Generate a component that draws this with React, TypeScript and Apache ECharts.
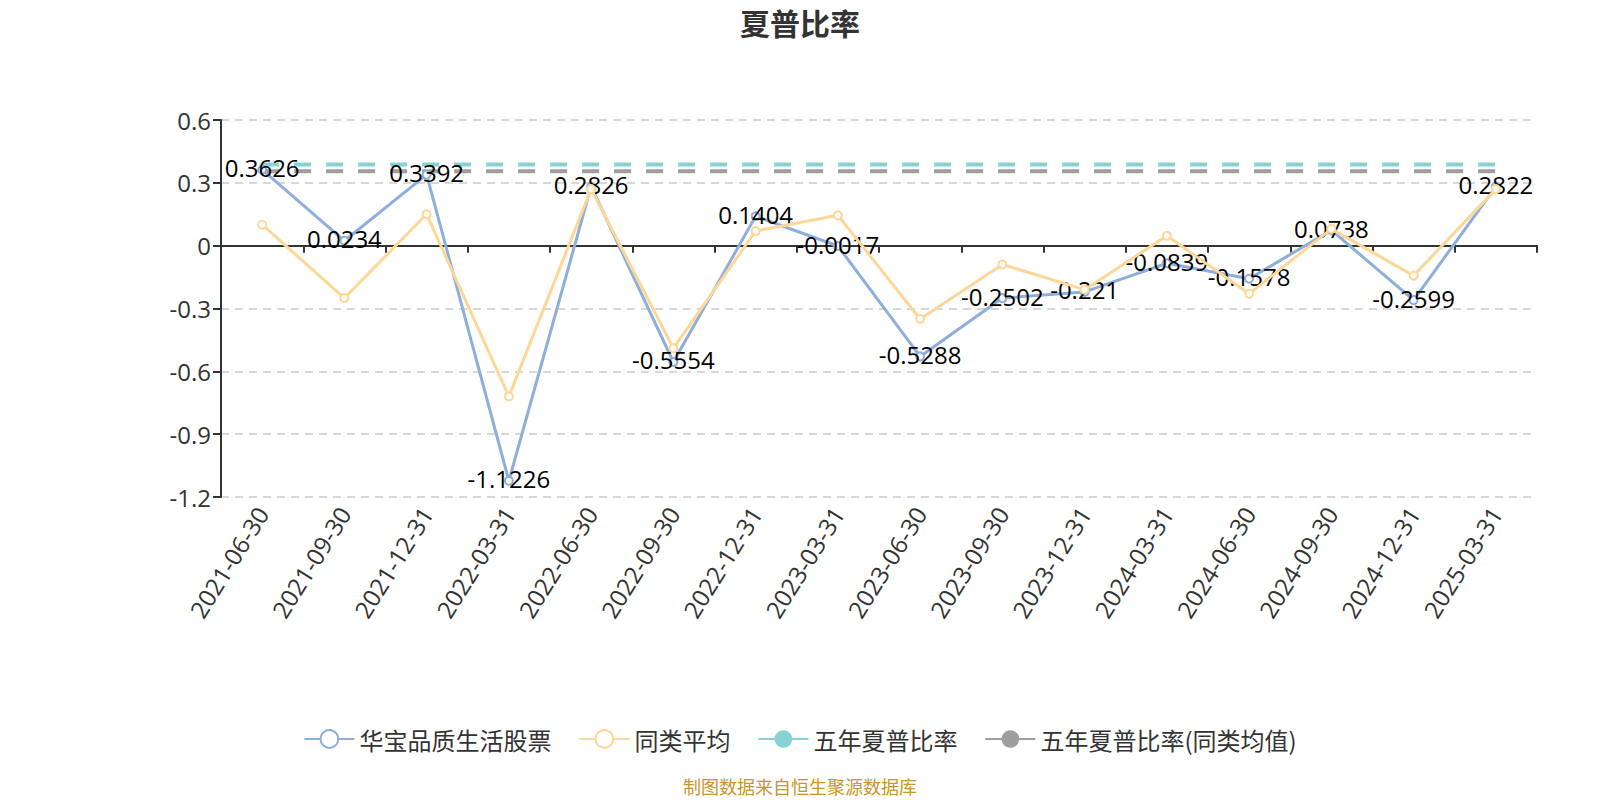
import React, { useEffect, useRef } from "react";
import * as echarts from "echarts";

const categories = [
  "2021-06-30", "2021-09-30", "2021-12-31", "2022-03-31", "2022-06-30", "2022-09-30",
  "2022-12-31", "2023-03-31", "2023-06-30", "2023-09-30", "2023-12-31", "2024-03-31",
  "2024-06-30", "2024-09-30", "2024-12-31", "2025-03-31",
];
const fundValues = [
  0.3626, 0.0234, 0.3392, -1.1226, 0.2826, -0.5554, 0.1404, -0.0017,
  -0.5288, -0.2502, -0.221, -0.0839, -0.1578, 0.0738, -0.2599, 0.2822,
];
const peerValues = [
  0.10, -0.25, 0.15, -0.72, 0.27, -0.49, 0.07, 0.145,
  -0.35, -0.09, -0.21, 0.047, -0.23, 0.08, -0.143, 0.27,
];
const fiveYearFund = 0.387;
const fiveYearPeer = 0.355;
const seriesNames = ["华宝品质生活股票", "同类平均", "五年夏普比率", "五年夏普比率(同类均值)"];
const yTicks = { min: -1.2, max: 0.6, interval: 0.3 };

const FONT = "'Noto Sans CJK SC', 'Noto Sans', sans-serif";
const NUMFONT = "'Open Sans', 'Noto Sans CJK SC', sans-serif";

export default function App() {
  const ref = useRef<HTMLDivElement>(null);
  useEffect(() => {
    document.body.style.margin = "0";
    if (!ref.current) return;
    const chart = echarts.init(ref.current, undefined, { renderer: "svg" });
    chart.setOption({
      animation: false,
      textStyle: { fontFamily: FONT },
      title: [
        {
          text: "夏普比率",
          left: "center",
          top: 2,
          textStyle: { fontSize: 30, fontWeight: "bold", color: "#333", fontFamily: FONT },
        },
        {
          text: "制图数据来自恒生聚源数据库",
          left: "center",
          bottom: 0,
          textStyle: { fontSize: 18, fontWeight: "normal", color: "#c8962a", fontFamily: FONT },
        },
      ],
      legend: {
        top: 722,
        left: "center",
        itemWidth: 50,
        itemHeight: 22,
        itemGap: 27,
        textStyle: { fontSize: 24, color: "#333", fontFamily: FONT },
        lineStyle: { type: "solid", width: 2 },
        data: seriesNames,
      },
      grid: { left: 221, right: 63, top: 120, bottom: 303, containLabel: false },
      xAxis: {
        type: "category",
        data: categories,
        boundaryGap: true,
        axisLine: { onZero: true, lineStyle: { color: "#333", width: 2 } },
        axisTick: { show: true, length: 7, lineStyle: { color: "#333", width: 2 } },
        axisLabel: { rotate: 58, fontSize: 24, color: "#333", margin: 12, interval: 0, fontFamily: NUMFONT },
        splitLine: { show: false },
      },
      yAxis: {
        type: "value",
        min: yTicks.min,
        max: yTicks.max,
        interval: yTicks.interval,
        axisLine: { show: true, lineStyle: { color: "#333", width: 2 } },
        axisTick: { show: true, length: 8, lineStyle: { color: "#333", width: 2 } },
        axisLabel: { fontSize: 24, color: "#333", margin: 10, fontFamily: NUMFONT },
        splitLine: { show: true, lineStyle: { color: "#ccc", type: [8, 6], width: 1.5 } },
      },
      series: [
        {
          name: seriesNames[0],
          type: "line",
          data: fundValues,
          symbol: "emptyCircle",
          symbolSize: 8,
          itemStyle: { color: "#8eaedc", borderWidth: 2 },
          lineStyle: { color: "#8eaedc", width: 3 },
          label: {
            show: true,
            position: "inside",
            offset: [0, -2],
            fontSize: 24,
            color: "#000",
            fontFamily: NUMFONT,
          },
          z: 3,
        },
        {
          name: seriesNames[1],
          type: "line",
          data: peerValues,
          symbol: "emptyCircle",
          symbolSize: 8,
          itemStyle: { color: "#fdd797", borderWidth: 2 },
          lineStyle: { color: "#fdd797", width: 3 },
          z: 4,
        },
        {
          name: seriesNames[2],
          type: "line",
          data: categories.map(() => fiveYearFund),
          symbol: "circle",
          showSymbol: false,
          itemStyle: { color: "#86d3d6" },
          lineStyle: { color: "#86d3d6", width: 4, type: [17, 15] },
          z: 2,
        },
        {
          name: seriesNames[3],
          type: "line",
          data: categories.map(() => fiveYearPeer),
          symbol: "circle",
          showSymbol: false,
          itemStyle: { color: "#9e9e9e" },
          lineStyle: { color: "#9e9e9e", width: 4, type: [17, 15] },
          z: 2,
        },
      ],
    });
    return () => chart.dispose();
  }, []);
  return <div ref={ref} style={{ width: 1600, height: 800 }} />;
}
